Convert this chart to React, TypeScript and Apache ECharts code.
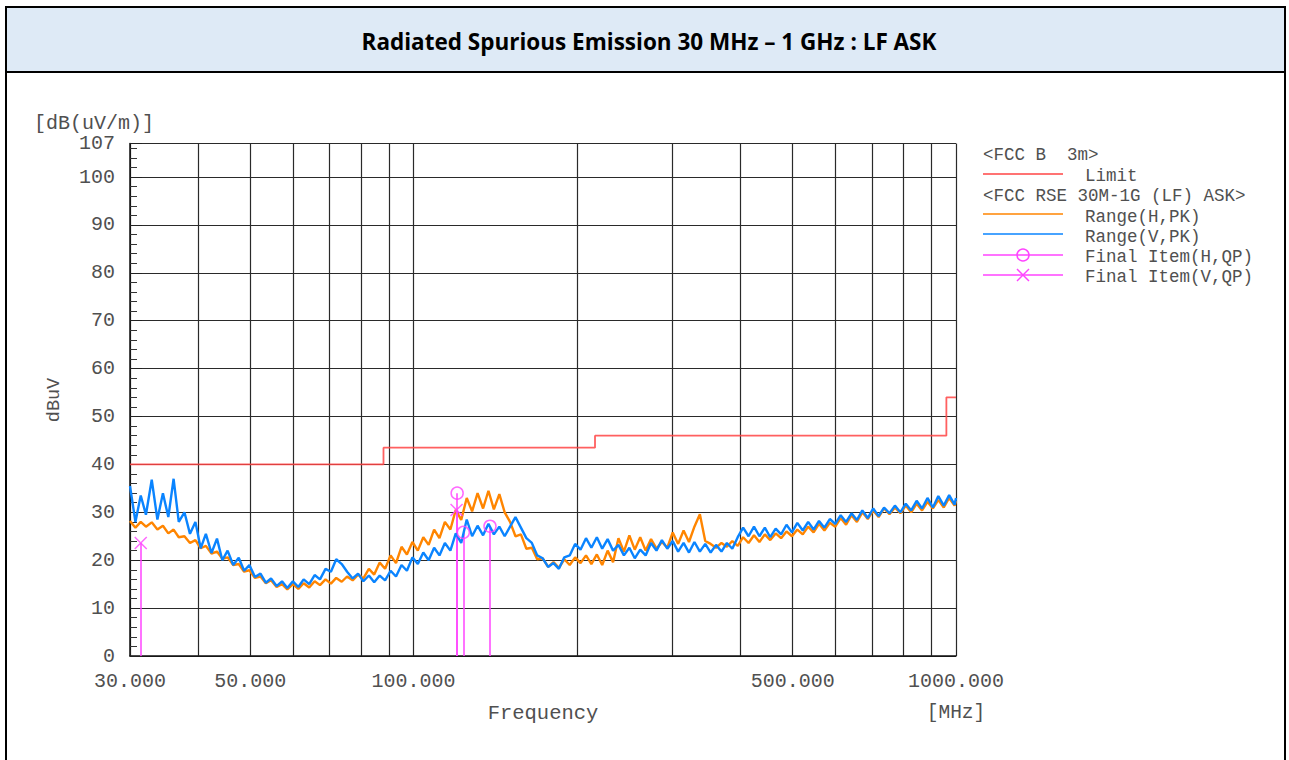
import React, { useEffect, useRef } from "react";
import * as echarts from "echarts";

// ---- data ----
const FREQ_MHZ = [
  30.0, 30.7, 31.4, 32.1, 32.9, 33.7, 34.5, 35.3, 36.1, 36.9,
  37.8, 38.7, 39.6, 40.5, 41.4, 42.4, 43.4, 44.4, 45.4, 46.5,
  47.6, 48.7, 49.8, 51.0, 52.2, 53.4, 54.6, 55.9, 57.2, 58.5,
  59.9, 61.3, 62.7, 64.2, 65.7, 67.2, 68.8, 70.4, 72.0, 73.7,
  75.4, 77.2, 79.0, 80.8, 82.7, 84.6, 86.6, 88.6, 90.7, 92.8,
  95.0, 97.2, 99.5, 101.8, 104.2, 106.6, 109.1, 111.6, 114.2, 116.9,
  119.6, 122.4, 125.3, 128.2, 131.2, 134.3, 137.4, 140.6, 143.9, 147.2,
  150.6, 154.1, 157.7, 161.4, 165.2, 169.0, 173.0, 177.0, 181.1, 185.3,
  189.6, 194.0, 198.5, 203.1, 207.9, 212.7, 217.7, 222.7, 227.9, 233.2,
  238.6, 244.2, 249.9, 255.7, 261.7, 267.8, 274.0, 280.4, 286.9, 293.6,
  300.4, 307.4, 314.6, 321.9, 329.4, 337.1, 344.9, 352.9, 361.1, 369.5,
  378.1, 386.9, 395.9, 405.1, 414.5, 424.2, 434.1, 444.2, 454.5, 465.1,
  475.9, 487.0, 498.3, 509.9, 521.8, 533.9, 546.3, 559.0, 572.0, 585.3,
  598.9, 612.9, 627.1, 641.7, 656.6, 671.9, 687.6, 703.6, 720.0, 736.8,
  754.0, 771.6, 789.6, 808.0, 826.8, 846.1, 865.8, 886.0, 906.6, 927.7,
  949.3, 971.4, 994.0, 1000.0,
];

const H_PK = [
  28.2, 26.8, 28.0, 27.0, 27.9, 26.4, 27.2, 25.6, 26.4, 24.8,
  25.0, 23.6, 24.2, 22.5, 23.0, 21.4, 21.8, 20.3, 20.6, 19.0,
  19.2, 17.6, 17.9, 16.3, 16.6, 15.2, 15.8, 14.4, 15.0, 13.9,
  15.0, 14.0, 15.2, 14.3, 15.6, 14.8, 16.0, 15.1, 16.3, 15.5,
  16.6, 15.8, 17.0, 16.2, 18.2, 17.0, 19.5, 18.2, 21.0, 19.4,
  22.8, 21.2, 23.8, 22.0, 24.8, 23.2, 26.4, 24.6, 28.0, 26.4,
  30.5, 28.4, 33.0, 30.2, 34.0, 30.8, 34.5, 30.6, 33.8, 30.0,
  28.0, 25.0, 25.4, 22.4, 22.6, 20.2, 20.4, 18.6, 19.6, 18.4,
  20.2, 19.0, 20.6, 19.4, 21.0, 19.2, 21.2, 19.0, 22.0, 19.6,
  24.6, 21.8, 25.2, 22.2, 24.8, 22.0, 24.4, 22.4, 23.8, 22.6,
  25.8, 23.4, 26.2, 23.8, 27.0, 29.6, 24.0, 23.4, 22.6, 23.6,
  22.8, 24.0, 23.0, 24.8, 23.6, 25.2, 23.8, 25.4, 24.2, 25.6,
  24.6, 26.0, 25.0, 26.4, 25.4, 27.0, 25.8, 27.6, 26.2, 27.8,
  27.0, 28.8, 27.4, 29.4, 28.0, 30.0, 28.6, 30.4, 29.0, 30.8,
  29.6, 31.0, 29.8, 31.4, 30.0, 31.8, 30.4, 32.2, 30.8, 32.6,
  31.0, 33.0, 31.4, 32.4,
];

const V_PK = [
  35.5, 28.0, 33.5, 29.5, 36.8, 28.5, 34.0, 29.0, 37.0, 28.0,
  30.0, 25.5, 28.0, 22.5, 25.5, 21.5, 24.5, 20.0, 22.0, 19.0,
  20.5, 17.8, 19.0, 16.5, 17.2, 15.3, 16.2, 14.6, 15.6, 14.2,
  15.6, 14.4, 16.0, 15.0, 16.9, 16.0, 18.2, 17.6, 20.2, 19.2,
  17.6, 16.2, 17.2, 15.6, 16.8, 15.4, 16.8, 15.8, 17.8, 16.6,
  19.0, 17.8, 20.6, 19.2, 21.6, 20.0, 22.6, 21.0, 23.6, 22.0,
  25.6, 23.6, 28.5, 25.0, 27.2, 25.2, 27.6, 25.4, 27.0, 25.0,
  27.0, 29.0, 26.8, 24.6, 23.6, 21.0, 20.4, 18.6, 19.4, 18.2,
  20.6, 21.0, 23.4, 22.2, 24.6, 22.6, 24.8, 22.4, 24.4, 22.0,
  23.2, 21.0, 22.6, 20.4, 22.2, 21.0, 23.6, 22.0, 24.2, 22.4,
  24.0, 21.8, 23.6, 21.6, 23.8, 21.8, 23.4, 21.6, 23.2, 21.8,
  23.6, 22.4, 24.8, 26.8, 25.0, 27.0, 25.0, 26.8, 24.8, 26.6,
  25.4, 27.4, 25.8, 27.8, 26.2, 28.0, 26.4, 28.2, 26.8, 28.6,
  27.6, 29.4, 28.0, 29.8, 28.4, 30.4, 28.8, 30.8, 29.2, 31.0,
  29.8, 31.4, 30.0, 31.8, 30.4, 32.4, 30.8, 33.0, 31.0, 33.4,
  31.4, 33.6, 31.6, 33.0,
];

const LIMIT_FREQ = [30, 88, 216, 960, 1000];
const LIMIT_DBUV = [40, 43.5, 46, 54, 54];

const H_QP_FREQ = [120.3, 123.5, 138.3];
const H_QP_VAL = [34.0, 25.8, 27.1];
const V_QP_FREQ = [31.4, 120.0];
const V_QP_VAL = [23.6, 30.5];

const X_GRID = [30, 40, 50, 60, 70, 80, 90, 100, 200, 300, 400, 500, 600, 700, 800, 900, 1000];
const X_LABELS = [30, 50, 100, 500, 1000];
const Y_MIN = 0;
const Y_MAX = 107;
const Y_STEP = 10;

const TITLE = "Radiated Spurious Emission 30 MHz \u2013 1 GHz : LF ASK";
const LEGEND_HEAD_1 = "<FCC B  3m>";
const LEGEND_HEAD_2 = "<FCC RSE 30M-1G (LF) ASK>";
const LEGEND_NAMES = ["Limit", "Range(H,PK)", "Range(V,PK)", "Final Item(H,QP)", "Final Item(V,QP)"];

// ---- styles ----
const MONO = '"Liberation Mono", "DejaVu Sans Mono", monospace';
const TXT = "#505050";
const RED = "#ff4444";
const ORANGE = "#ff8500";
const BLUE = "#0a84ff";
const MAG = "#ff44ff";
const GRID = "#2a2a2a";

const lg = (v: number) => Math.log10(v);

export default function App() {
  const ref = useRef<HTMLDivElement>(null);

  useEffect(() => {
    if (!ref.current) return;
    const chart = echarts.init(ref.current, undefined, { renderer: "svg" });

    const legendRowsY = [174, 214, 234, 255, 275];
    const legendColors = [RED, ORANGE, BLUE, MAG, MAG];
    const legendTextY = [176, 217, 237, 257, 277];
    const legendFont = `17.5px ${MONO}`;

    const graphic: any[] = [
      {
        type: "rect",
        shape: { x: 6, y: 7, width: 1279, height: 65 },
        style: { fill: "#DEEAF6", stroke: "#000", lineWidth: 2 },
      },
      { type: "line", shape: { x1: 6, y1: 72, x2: 6, y2: 760 }, style: { stroke: "#000", lineWidth: 2 } },
      { type: "line", shape: { x1: 1285, y1: 72, x2: 1285, y2: 760 }, style: { stroke: "#000", lineWidth: 2 } },
      {
        type: "text",
        x: 649,
        y: 41,
        style: {
          text: TITLE,
          fill: "#000",
          font: 'bold 22.5px "Open Sans", Lato, sans-serif',
          textAlign: "center",
          textVerticalAlign: "middle",
        },
      },
      {
        type: "text",
        x: 34,
        y: 123,
        style: { text: "[dB(uV/m)]", fill: TXT, font: `20px ${MONO}`, textAlign: "left", textVerticalAlign: "middle" },
      },
      {
        type: "text",
        x: 54,
        y: 400,
        rotation: Math.PI / 2,
        style: { text: "dBuV", fill: TXT, font: `18.5px ${MONO}`, textAlign: "center", textVerticalAlign: "middle" },
      },
      {
        type: "text",
        x: 543,
        y: 713,
        style: { text: "Frequency", fill: TXT, font: `20.5px ${MONO}`, textAlign: "center", textVerticalAlign: "middle" },
      },
      {
        type: "text",
        x: 956,
        y: 713,
        style: { text: "[MHz]", fill: TXT, font: `19.5px ${MONO}`, textAlign: "center", textVerticalAlign: "middle" },
      },
      {
        type: "text",
        x: 983,
        y: 155,
        style: { text: LEGEND_HEAD_1, fill: TXT, font: legendFont, textAlign: "left", textVerticalAlign: "middle" },
      },
      {
        type: "text",
        x: 983,
        y: 196,
        style: { text: LEGEND_HEAD_2, fill: TXT, font: legendFont, textAlign: "left", textVerticalAlign: "middle" },
      },
    ];

    LEGEND_NAMES.forEach((name, i) => {
      graphic.push({
        type: "line",
        shape: { x1: 983, y1: legendRowsY[i], x2: 1063, y2: legendRowsY[i] },
        style: { stroke: legendColors[i], lineWidth: 1.5 },
      });
      graphic.push({
        type: "text",
        x: 1085,
        y: legendTextY[i],
        style: { text: name, fill: TXT, font: legendFont, textAlign: "left", textVerticalAlign: "middle" },
      });
    });
    graphic.push({
      type: "circle",
      shape: { cx: 1023, cy: legendRowsY[3], r: 6 },
      style: { fill: "none", stroke: MAG, lineWidth: 1.5 },
    });
    graphic.push({
      type: "line",
      shape: { x1: 1017, y1: legendRowsY[4] - 6, x2: 1029, y2: legendRowsY[4] + 6 },
      style: { stroke: MAG, lineWidth: 1.5 },
    });
    graphic.push({
      type: "line",
      shape: { x1: 1029, y1: legendRowsY[4] - 6, x2: 1017, y2: legendRowsY[4] + 6 },
      style: { stroke: MAG, lineWidth: 1.5 },
    });

    const stems = (freqs: number[], vals: number[]) =>
      freqs.map((f, i) => [{ coord: [lg(f), 0] }, { coord: [lg(f), vals[i]] }]);

    const option: any = {
      animation: false,
      backgroundColor: "#ffffff",
      grid: { left: 130, right: 333, top: 143.5, bottom: 104, containLabel: false },
      xAxis: {
        type: "value",
        min: lg(30),
        max: 3,
        axisLine: { show: true, onZero: false, lineStyle: { color: "#111", width: 1.5 } },
        axisTick: {
          show: true,
          inside: true,
          length: 6,
          customValues: X_GRID.map(lg),
          lineStyle: { color: "#222" },
        },
        axisLabel: {
          customValues: X_LABELS.map(lg),
          formatter: (v: number) => Math.pow(10, v).toFixed(3),
          color: TXT,
          fontFamily: MONO,
          fontSize: 20,
          margin: 15,
        },
        splitLine: { show: true, lineStyle: { color: GRID, width: 1.2 } },
      },
      yAxis: {
        type: "value",
        min: Y_MIN,
        max: Y_MAX,
        interval: Y_STEP,
        axisLine: { show: true, lineStyle: { color: "#111", width: 1.5 } },
        axisTick: { show: true, inside: true, length: 12, lineStyle: { color: "#222" } },
        minorTick: { show: true, splitNumber: 5, length: 7, lineStyle: { color: "#333" } },
        axisLabel: { color: TXT, fontFamily: MONO, fontSize: 20, margin: 15 },
        splitLine: { show: true, lineStyle: { color: GRID, width: 1.2 } },
      },
      series: [
        {
          name: "Limit",
          type: "line",
          step: "end",
          symbol: "none",
          data: LIMIT_FREQ.map((f, i) => [lg(f), LIMIT_DBUV[i]]),
          lineStyle: { color: RED, width: 1.8, opacity: 0.85 },
          z: 3,
        },
        {
          name: "Range(H,PK)",
          type: "line",
          symbol: "none",
          data: FREQ_MHZ.map((f, i) => [lg(f), H_PK[i]]),
          lineStyle: { color: ORANGE, width: 2.4 },
          z: 4,
        },
        {
          name: "Range(V,PK)",
          type: "line",
          symbol: "none",
          data: FREQ_MHZ.map((f, i) => [lg(f), V_PK[i]]),
          lineStyle: { color: BLUE, width: 2.4 },
          z: 5,
        },
        {
          name: "Final Item(H,QP)",
          type: "scatter",
          symbol: "circle",
          symbolSize: 12,
          data: H_QP_FREQ.map((f, i) => [lg(f), H_QP_VAL[i]]),
          itemStyle: { color: "rgba(0,0,0,0)", borderColor: MAG, borderWidth: 1.5 },
          markLine: {
            silent: true,
            symbol: ["none", "none"],
            label: { show: false },
            lineStyle: { color: MAG, width: 1.5, type: "solid" },
            data: stems(H_QP_FREQ, H_QP_VAL),
          },
          z: 6,
        },
        {
          name: "Final Item(V,QP)",
          type: "scatter",
          symbol: "path://M0,0L10,10M10,0L0,10",
          symbolSize: 12,
          data: V_QP_FREQ.map((f, i) => [lg(f), V_QP_VAL[i]]),
          itemStyle: { color: "rgba(0,0,0,0)", borderColor: MAG, borderWidth: 1.5 },
          markLine: {
            silent: true,
            symbol: ["none", "none"],
            label: { show: false },
            lineStyle: { color: MAG, width: 1.5, type: "solid" },
            data: stems(V_QP_FREQ, V_QP_VAL),
          },
          z: 6,
        },
      ],
      graphic,
    };

    chart.setOption(option);
    return () => chart.dispose();
  }, []);

  return (
    <div
      ref={ref}
      style={{ position: "absolute", left: 0, top: 0, width: 1289, height: 760, background: "#fff" }}
    />
  );
}
